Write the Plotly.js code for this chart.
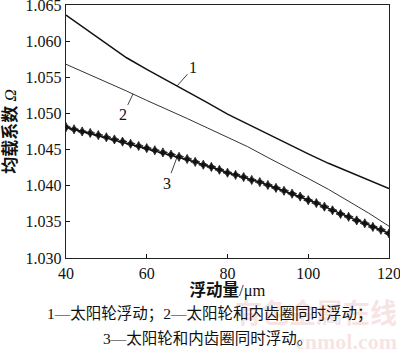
<!DOCTYPE html>
<html>
<head>
<meta charset="utf-8">
<script src="https://cdn.plot.ly/plotly-3.0.1.min.js"></script>
<style>html,body{margin:0;padding:0;background:#fff;}#chart{width:400px;height:351px;}</style>
</head>
<body>
<div id="chart"></div>
<script>
// Series 1: 太阳轮浮动
var x1 = [40, 45, 50, 55, 60, 65, 70, 75, 80, 85, 90, 95, 100, 105, 110, 115, 120];
var y1 = [1.0636, 1.0616, 1.0596, 1.0577, 1.0561, 1.0546, 1.0531, 1.0515, 1.0499, 1.0485, 1.0471, 1.0457, 1.0444, 1.0431, 1.0419, 1.0407, 1.0396];
// Series 2: 太阳轮和内齿圈同时浮动
var x2 = [40, 45, 50, 55, 60, 65, 70, 75, 80, 85, 90, 95, 100, 105, 110, 115, 120];
var y2 = [1.0568, 1.0556, 1.0543, 1.0531, 1.0518, 1.0506, 1.0493, 1.0480, 1.0467, 1.0454, 1.0439, 1.0425, 1.0410, 1.0395, 1.0379, 1.0362, 1.0344];
// Series 3 (markers every 2 μm)
var x3 = [40,42,44,46,48,50,52,54,56,58,60,62,64,66,68,70,72,74,76,78,80,82,84,86,88,90,92,94,96,98,100,102,104,106,108,110,112,114,116,118,120];
var y3 = [1.0481,1.0478,1.0475,1.0473,1.0470,1.0467,1.0464,1.0461,1.0458,1.0455,1.0452,1.0449,1.0446,1.0443,1.0440,1.0437,1.0433,1.0429,1.0426,1.0422,1.0418,1.0415,1.0412,1.0408,1.0405,1.0401,1.0397,1.0393,1.0389,1.0385,1.0380,1.0376,1.0371,1.0366,1.0361,1.0357,1.0352,1.0348,1.0343,1.0339,1.0334];

var xTicks = [40, 60, 80, 100, 120];
var xTickText = ['40', '60', '80', '100', '120'];
var yTicks = [1.030, 1.035, 1.040, 1.045, 1.050, 1.055, 1.060, 1.065];
var yTickText = ['1.030','1.035','1.040','1.045','1.050','1.055','1.060','1.065'];

var serif = 'Liberation Serif, Times New Roman, Noto Sans CJK SC, serif';
var cjk = 'Liberation Serif, Noto Sans CJK SC, serif';

var traces = [
  {x: x1, y: y1, mode: 'lines', line: {color: '#111', width: 1.5}, hoverinfo: 'skip'},
  {x: x2, y: y2, mode: 'lines', line: {color: '#333', width: 1}, hoverinfo: 'skip'},
  {x: x3, y: y3, mode: 'lines+markers', line: {color: '#111', width: 1.5},
   marker: {symbol: 'star-diamond', size: 6.5, color: '#111', line: {width: 0.8, color: '#111'}}, hoverinfo: 'skip'}
];

var layout = {
  width: 400, height: 351,
  margin: {l: 66, r: 11, t: 5, b: 93},
  paper_bgcolor: '#fff', plot_bgcolor: '#fff',
  showlegend: false,
  font: {family: serif, color: '#111'},
  xaxis: {
    range: [40, 120], tickvals: xTicks, ticktext: xTickText, ticks: 'inside', ticklen: 4, tickcolor: '#111',
    ticklabeloverflow: 'allow',
    showline: true, linecolor: '#222', linewidth: 1.3, mirror: true, showgrid: false, zeroline: false,
    tickfont: {family: serif, size: 16, color: '#111'},
    title: {text: '<b>浮动量</b>/μm', font: {family: cjk, size: 16.5, color: '#111'}, standoff: 3}
  },
  yaxis: {
    range: [1.030, 1.065], tickvals: yTicks, ticktext: yTickText, ticks: 'inside', ticklen: 4, tickcolor: '#111',
    ticklabeloverflow: 'allow',
    showline: true, linecolor: '#222', linewidth: 1.3, mirror: true, showgrid: false, zeroline: false,
    tickfont: {family: serif, size: 16, color: '#111'},
    title: {text: '<b>均载系数</b> <i>Ω</i>', font: {family: cjk, size: 17, color: '#111'}, standoff: 4}
  },
  annotations: [
    {xref: 'paper', yref: 'paper', x: 1.03, y: -0.21, xanchor: 'right', yanchor: 'middle', showarrow: false,
     text: '<b>有色金属在线</b>', font: {family: 'Noto Sans CJK SC, sans-serif', size: 27, color: 'rgba(225,160,160,0.3)'}},
    {xref: 'paper', yref: 'paper', x: 1.03, y: -0.33, xanchor: 'right', yanchor: 'middle', showarrow: false,
     text: '<b>cnmol.com</b>', font: {family: serif, size: 22, color: 'rgba(225,160,160,0.3)'}},
    {xref: 'x', yref: 'y', x: 67.5, y: 1.0538, ax: 16, ay: -18, text: '1', showarrow: true, arrowhead: 0, arrowwidth: 0.8, arrowcolor: '#111',
     font: {family: serif, size: 16, color: '#111'}},
    {xref: 'x', yref: 'y', x: 56.6, y: 1.0527, ax: -10, ay: 21, text: '2', showarrow: true, arrowhead: 0, arrowwidth: 0.8, arrowcolor: '#111',
     font: {family: serif, size: 16, color: '#111'}},
    {xref: 'x', yref: 'y', x: 67.6, y: 1.0441, ax: -10, ay: 27, text: '3', showarrow: true, arrowhead: 0, arrowwidth: 0.8, arrowcolor: '#111',
     font: {family: serif, size: 16, color: '#111'}},
    {xref: 'paper', yref: 'paper', x: 0.447, y: -0.2213, xanchor: 'center', yanchor: 'middle', showarrow: false,
     text: '1—太阳轮浮动；2—太阳轮和内齿圈同时浮动；', font: {family: cjk, size: 15.5, color: '#111'}},
    {xref: 'paper', yref: 'paper', x: 0.437, y: -0.320, xanchor: 'center', yanchor: 'middle', showarrow: false,
     text: '3—太阳轮和内齿圈同时浮动。', font: {family: cjk, size: 15.5, color: '#111'}}
  ]
};

Plotly.newPlot('chart', traces, layout, {staticPlot: true, displayModeBar: false});
</script>
</body>
</html>
